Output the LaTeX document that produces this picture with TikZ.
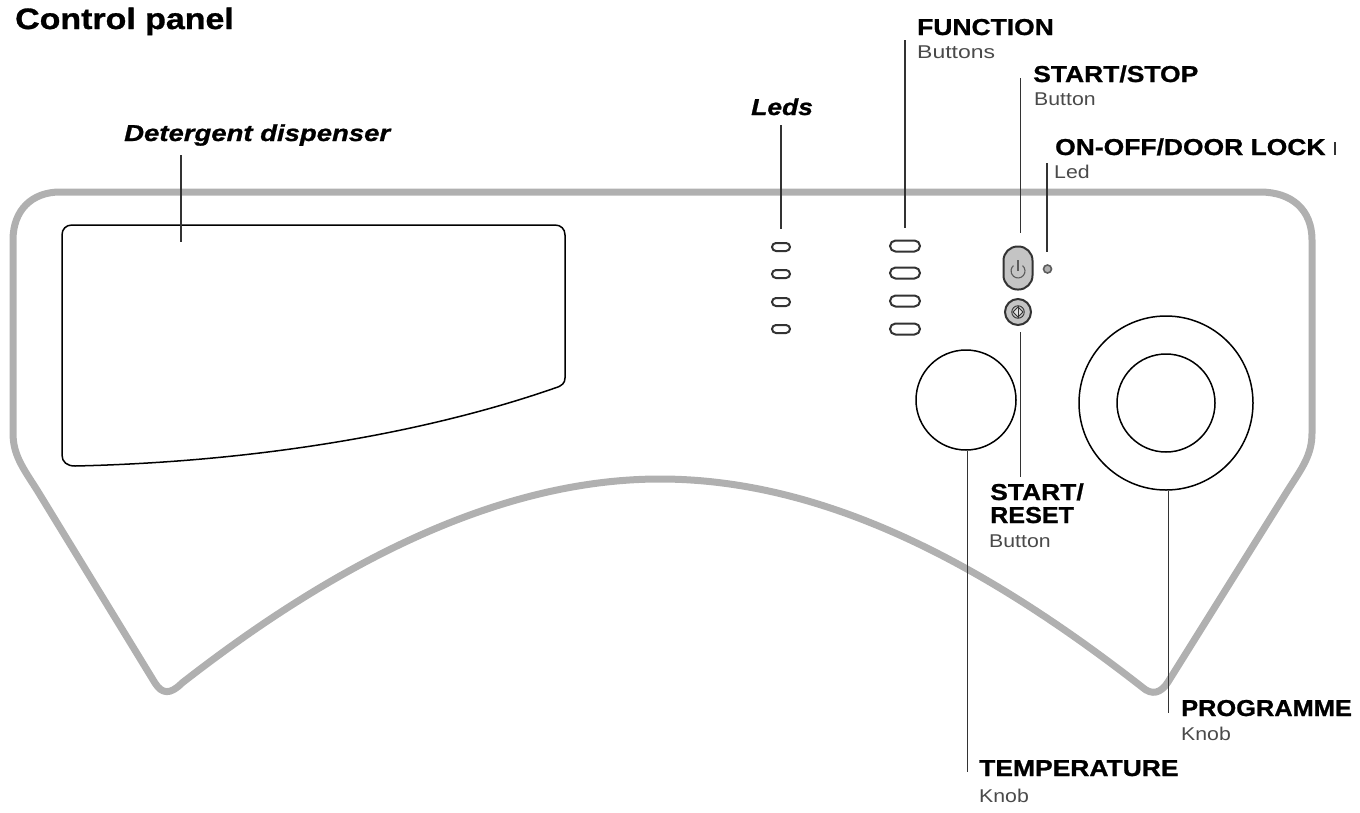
\documentclass[tikz,border=0pt]{standalone}
\usepackage{fontspec}
\setmainfont{Liberation Sans}
\newfontfamily\heavyfont[UprightFont=* Bold,ItalicFont=* Bold Italic,FakeBold=1,FakeStretch=1.15]{Liberation Sans}
\newfontfamily\subfont[FakeStretch=1.15]{Liberation Sans}
\definecolor{panelgray}{HTML}{B0B0B0}
\definecolor{linegray}{HTML}{333333}
\definecolor{subgray}{HTML}{4A4A4A}
\tikzset{
  headlabel/.style={anchor=base west,inner sep=0pt,text=black,font=\heavyfont\fontsize{23}{23}\selectfont},
  sublabel/.style={anchor=base west,inner sep=0pt,text=subgray,font=\subfont\fontsize{18.5}{18.5}\selectfont},
  leader/.style={draw=linegray,line width=1.5pt},
  ledslot/.style={draw=linegray,line width=2pt,rounded corners=4pt,minimum width=18pt,minimum height=8pt,inner sep=0pt},
  fnslot/.style={draw=linegray,line width=2pt,rounded corners=5.5pt,minimum width=30pt,minimum height=11pt,inner sep=0pt},
  knob/.style={draw=black,line width=1.5pt,circle,inner sep=0pt}
}
\begin{document}
\begin{tikzpicture}[x=1pt,y=-1pt]
    \useasboundingbox (0,0) rectangle (1360,812);

    %Panel outline
    \draw[panelgray,line width=7pt,line join=round] (60,192) -- (1260,192)
        .. controls (1292,192) and (1312,210) .. (1312,240) -- (1312,433)
        .. controls (1312,455) and (1302,468) .. (1288,490) -- (1168,682)
        .. controls (1161,693) and (1152,696) .. (1142,687)
        .. controls (992,570) and (830,479) .. (660,479)
        .. controls (490,479) and (323,573) .. (182,683)
        .. controls (170,695) and (162,694) .. (155,683) -- (37,490)
        .. controls (23,468) and (13,455) .. (13,433) -- (13,240)
        .. controls (13,210) and (32,192) .. (60,192) -- cycle;

    %Detergent dispenser
    \draw[black,line width=1.5pt] (72,225) -- (555,225)
        .. controls (561,225) and (565,229) .. (565,235) -- (565,378)
        .. controls (565,383) and (562,386) .. (555,388)
        .. controls (420,435) and (250,462) .. (75,466)
        .. controls (67,466) and (62,462) .. (62,455) -- (62,235)
        .. controls (62,229) and (66,225) .. (72,225) -- cycle;

    %Leds
    \node[ledslot] (led1) at (781,247) {};
    \node[ledslot] (led2) at (781,274) {};
    \node[ledslot] (led3) at (781,302) {};
    \node[ledslot] (led4) at (781,329) {};

    %Function buttons
    \node[fnslot] (fn1) at (905,246) {};
    \node[fnslot] (fn2) at (905,273) {};
    \node[fnslot] (fn3) at (905,301) {};
    \node[fnslot] (fn4) at (905,329) {};

    %Start/stop, start/reset, door lock led
    \node[draw=linegray,fill=panelgray!75,line width=2pt,rounded corners=14pt,minimum width=29pt,minimum height=43pt,inner sep=0pt] (startstop) at (1018,268) {};
    \node[draw=linegray,fill=panelgray!75,line width=2pt,circle,minimum size=26pt,inner sep=0pt] (startreset) at (1018,312) {};
    \node[draw=linegray!80,fill=panelgray,line width=1.6pt,circle,minimum size=8pt,inner sep=0pt] (lockled) at (1047.5,269) {};
    \draw[linegray!80,line width=1.1pt] (1018,260) -- (1018,271);
    \draw[linegray!80,line width=1.1pt] (1022.5,265.6) arc (50:-230:7pt);
    \node[draw=linegray,line width=0.9pt,circle,minimum size=12.5pt,inner sep=0pt] (reseticon) at (1018,312) {};
    \draw[linegray,line width=0.9pt,fill=panelgray!40] (1018,307) -- (1023,312) -- (1018,317) -- (1013,312) -- cycle;
    \draw[linegray,line width=0.9pt] (1018,306) -- (1018,318);

    %Knobs
    \node[knob,minimum size=100pt] (tempknob) at (966,400) {};
    \node[knob,minimum size=174pt] (progknob) at (1166,403) {};
    \node[knob,minimum size=98pt] (proginner) at (1166,403) {};

    %Labels
    \node[anchor=base west,inner sep=0pt,font=\heavyfont\fontsize{29.5}{29.5}\selectfont] (title) at (15,29) {Control panel};
    \node[headlabel,xscale=1.04,font=\heavyfont\itshape\fontsize{23}{23}\selectfont] (detergent) at (124,141) {Detergent dispenser};
    \node[headlabel,font=\heavyfont\itshape\fontsize{23}{23}\selectfont] (ledslabel) at (751,115) {Leds};
    \node[headlabel] (function) at (917,35) {FUNCTION};
    \node[sublabel,xscale=1.08] (buttons) at (917,58) {Buttons};
    \node[headlabel] (stoplabel) at (1033,82) {START/STOP};
    \node[sublabel] (stopsub) at (1034,105) {Button};
    \node[headlabel] (onoff) at (1055,155) {ON-OFF/DOOR LOCK};
    \node[sublabel] (ledsub) at (1054,178) {Led};
    \node[headlabel] (resetlabel) at (990,500) {START/};
    \node[headlabel,xscale=0.95] (resetlabelb) at (990,523) {RESET};
    \node[sublabel] (resetsub) at (989,547) {Button};
    \node[headlabel,xscale=0.96] (proglabel) at (1181,716) {PROGRAMME};
    \node[sublabel] (progsub) at (1181,740) {Knob};
    \node[headlabel] (templabel) at (979,776) {TEMPERATURE};
    \node[sublabel] (tempsub) at (979,802) {Knob};

    %Leader ends
    \coordinate (dettop) at (181,155);
    \coordinate (detend) at (181,242);
    \coordinate (ledstop) at (781,125);
    \coordinate (fntop) at (905,40);
    \coordinate (stoptop) at (1020.5,78);
    \coordinate (locktop) at (1047,163);
    \coordinate (resetend) at (1020.5,477);
    \coordinate (tempend) at (967.5,772);
    \coordinate (progend) at (1168.5,713);
    \coordinate (ticktop) at (1335,142);
    \coordinate (tickend) at (1335,155);

    %Leaders
    \draw[leader] (dettop) -- (detend);
    \draw[leader,shorten >=13pt] (ledstop) -- (led1.north);
    \draw[leader,shorten >=12pt] (fntop) -- (fn1.north);
    \draw[leader,shorten >=13pt] (stoptop) -- (stoptop |- startstop.north);
    \draw[leader,shorten >=12pt] (locktop) -- (locktop |- lockled.north);
    \draw[leader,shorten <=6pt] (resetend |- startreset.south) -- (resetend);
    \draw[leader] (tempend |- tempknob.south) -- (tempend);
    \draw[leader] (progend |- progknob.south) -- (progend);
    \draw[leader] (ticktop) -- (tickend);
\end{tikzpicture}
\end{document}
